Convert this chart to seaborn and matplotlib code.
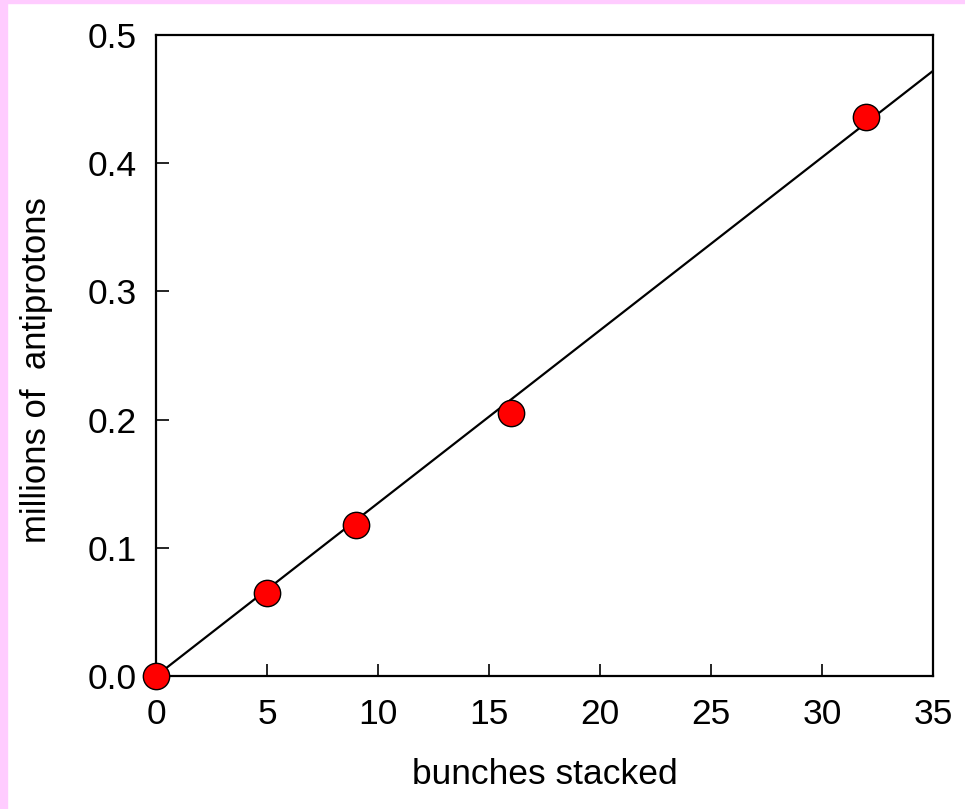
import pandas as pd
import matplotlib.pyplot as plt
import seaborn as sns
import matplotlib.patches as mpatches

bunches = [0, 5, 9, 16, 32]
antiprotons = [0.0, 0.065, 0.118, 0.205, 0.436]
fit_x = [0, 35]
fit_y = [0.0, 0.472]
x_ticks = [0, 5, 10, 15, 20, 25, 30, 35]
y_ticks = [0.0, 0.1, 0.2, 0.3, 0.4, 0.5]

sns.set_style("white")
plt.rcParams['font.family'] = ['Liberation Sans', 'DejaVu Sans']

df = pd.DataFrame({"bunches": bunches, "antiprotons": antiprotons})
fit = pd.DataFrame({"x": fit_x, "y": fit_y})

fig = plt.figure(figsize=(9.65, 8.09), dpi=100)
fig.patch.set_facecolor("white")
# pink strips on left and top
fig.patches.append(mpatches.Rectangle((0, 0), 7 / 965, 1, transform=fig.transFigure,
                                      color="#FFCCFF", zorder=-1))
fig.patches.append(mpatches.Rectangle((0, 1 - 3 / 809), 1, 3 / 809, transform=fig.transFigure,
                                      color="#FFCCFF", zorder=-1))

ax = fig.add_axes([156 / 965, 1 - 676 / 809, (933 - 156) / 965, (676 - 35) / 809])

sns.lineplot(data=fit, x="x", y="y", ax=ax, color="black", linewidth=1.6)
sns.scatterplot(data=df, x="bunches", y="antiprotons", ax=ax, s=360, color="#FF0000",
                edgecolor="black", linewidth=1, zorder=5, clip_on=False)

ax.set_xlim(0, 35)
ax.set_ylim(0, 0.5)
ax.set_xticks(x_ticks)
ax.set_yticks(y_ticks)
ax.set_xticklabels([str(t) for t in x_ticks])
ax.set_yticklabels([f"{t:.1f}" for t in y_ticks])
ax.tick_params(bottom=True, left=True, direction="in", length=9, width=1.2,
               labelsize=25.5, colors="black", labelcolor="black")
ax.tick_params(axis="y", pad=14)
ax.tick_params(axis="x", pad=16)

for s in ax.spines.values():
  s.set_color("black")
  s.set_linewidth(1.6)

ax.set_xlabel("bunches stacked", fontsize=25.5, labelpad=19, color="black")
ax.set_ylabel("millions of  antiprotons", fontsize=25, color="black")
ax.yaxis.set_label_coords(-0.132, 0.477)

plt.savefig("out.png", dpi=100)
plt.close()
